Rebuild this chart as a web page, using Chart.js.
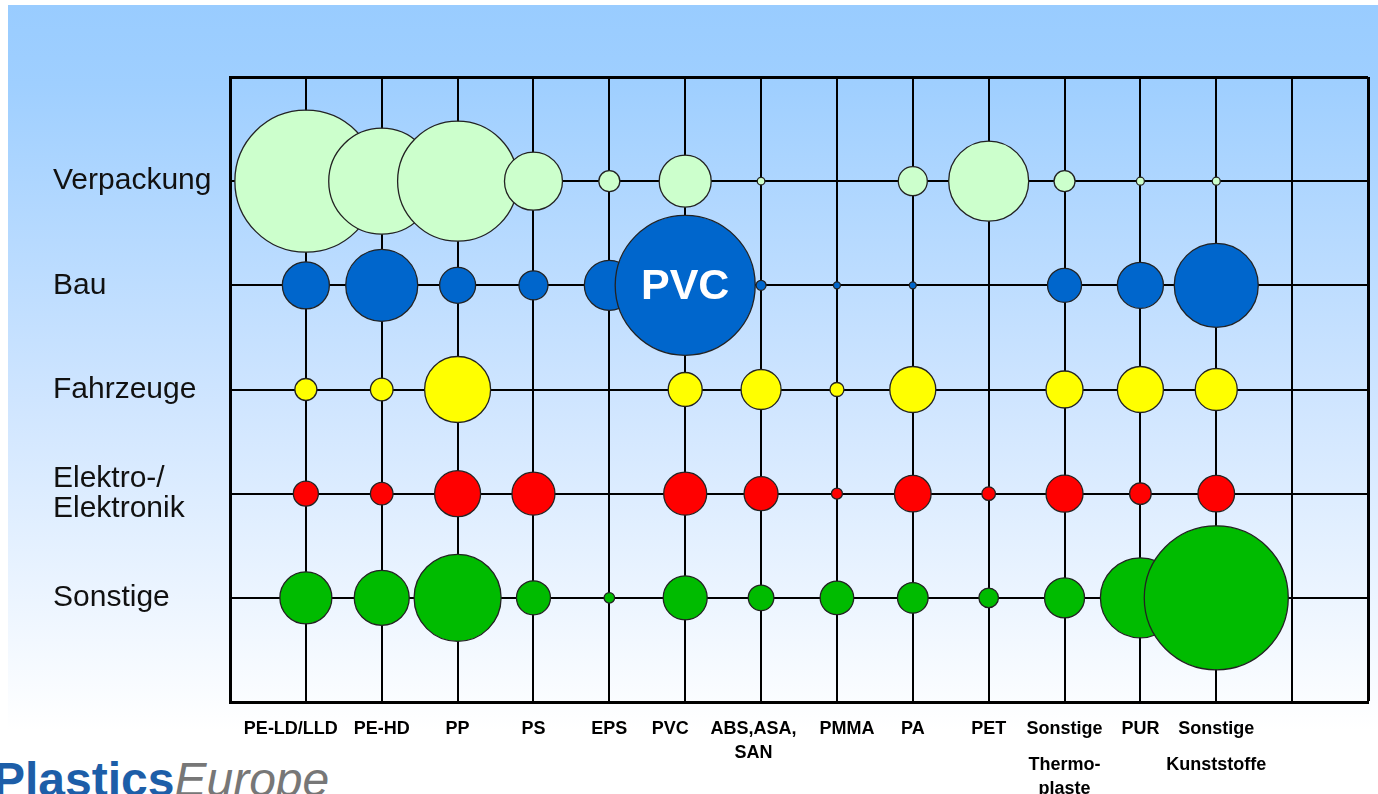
<!DOCTYPE html>
<html>
<head>
<meta charset="utf-8">
<script src="https://cdn.jsdelivr.net/npm/chart.js@4/dist/chart.umd.min.js"></script>
<style>
  html, body { margin: 0; padding: 0; background: #ffffff; overflow: hidden; }
  #bg {
    position: absolute; left: 8px; top: 5px; width: 1370px; height: 789px;
    background: linear-gradient(to bottom, #99ccff 0%, #9fcfff 10%, #cfe5ff 50%, #ffffff 92%);
  }
  #wrap { position: absolute; left: 0; top: 0; width: 1378px; height: 794px; }
  #logo {
    position: absolute; left: -7px; top: 756px; font-family: 'Liberation Sans', Arial, sans-serif;
    font-size: 48px; line-height: 1; white-space: nowrap;
  }
  #logo .p { color: #1d5ea8; font-weight: 600; }
  #logo .e { color: #777777; font-style: italic; font-weight: 300; }
</style>
</head>
<body>
<div id="bg"></div>
<div id="logo"><span class="p">Plastics</span><span class="e">Europe</span></div>
<div id="wrap"><canvas id="bubbleChart"></canvas></div>
<script>
// Werkstoffe (x-Achse), Positionen 1..13 (Leerzeichen verschieben die Beschriftung wie im Original)
const materials = [
  'PE-LD/LLD      ', 'PE-HD', 'PP', 'PS', 'EPS', 'PVC      ', ['ABS,ASA,   ', '', 'SAN   '],
  '    PMMA', 'PA', 'PET', ['Sonstige', '', '', 'Thermo-', '', 'plaste'], 'PUR',
  ['Sonstige', '', '', 'Kunststoffe']
];

// Anwendungsbereiche (y-Achse), von oben nach unten
const sectors = ['Verpackung', 'Bau', 'Fahrzeuge', ['Elektro-/', 'Elektronik'], 'Sonstige'];
const sectorColors = ['#ccffcc', '#0066cc', '#ffff00', '#ff0000', '#00bb00'];

// Blasengroessen (Radius), null = kein Einsatz
const verpackung = [71, 53, 60, 29, 10.5, 26, 3.8, null, 14.5, 40, 10.5, 4, 4];
const bau        = [23.5, 36, 18, 14.5, 25, 70, 5, 3.5, 3.5, null, 17, 23, 42];
const fahrzeuge  = [11, 11.3, 33, null, null, 17, 20, 7, 23, null, 18.5, 23, 21];
const elektro    = [12.5, 11.3, 23, 21.5, null, 21.5, 17, 5.5, 18.3, 6.8, 18.5, 10.8, 18.3];
const sonstige   = [26, 27.5, 43.5, 17, 5.3, 22, 12.8, 16.8, 15.3, 9.8, 20, 40, 72];

const rows = [verpackung, bau, fahrzeuge, elektro, sonstige];

const datasets = rows.map((vals, i) => {
    const yVal = sectors.length - i; // 5..1
    const data = [];
    vals.forEach((r, j) => {
        if (r !== null) data.push({ x: j + 1, y: yVal, r: r });
    });
    return {
        label: Array.isArray(sectors[i]) ? sectors[i].join(' ') : sectors[i],
        data: data,
        backgroundColor: sectorColors[i],
        borderColor: '#222222',
        borderWidth: 1.3,
        hoverRadius: 0,
        clip: false
    };
});

// weisser "PVC"-Schriftzug in der Bau/PVC-Blase
const pvcLabel = {
    id: 'pvcLabel',
    afterDatasetsDraw(chart) {
        const ctx = chart.ctx;
        const x = chart.scales.x.getPixelForValue(6);
        const y = chart.scales.y.getPixelForValue(sectors.length - 1);
        ctx.save();
        ctx.fillStyle = '#ffffff';
        ctx.font = 'bold 43px "Liberation Sans", Arial, sans-serif';
        ctx.textAlign = 'center';
        ctx.textBaseline = 'middle';
        ctx.fillText('PVC', x, y + 2);
        ctx.restore();
    }
};

const edgeWidth = (max) => (c) => (c.tick && c.tick.value === max ? 3 : 2);

new Chart(document.getElementById('bubbleChart'), {
    type: 'bubble',
    data: { datasets: datasets },
    plugins: [pvcLabel],
    options: {
        responsive: true,
        maintainAspectRatio: false,
        animation: false,
        layout: { autoPadding: false, padding: { left: 53, top: 77, right: 10, bottom: 0 } },
        plugins: {
            legend: { display: false },
            tooltip: { enabled: false }
        },
        scales: {
            x: {
                type: 'linear',
                min: 0,
                max: materials.length + 2,
                afterFit: (scale) => {
                    scale.height = 92;
                    scale.paddingLeft = 0;
                    scale.paddingRight = 0;
                },
                grid: { color: '#000000', lineWidth: edgeWidth(materials.length + 2), drawTicks: false },
                border: { color: '#000000', width: 3 },
                ticks: {
                    stepSize: 1,
                    autoSkip: false,
                    maxRotation: 0,
                    padding: 21,
                    color: '#000000',
                    font: { family: '"Liberation Sans", Arial, sans-serif', size: 18, weight: 'bold', lineHeight: '12px' },
                    callback: (v) => materials[v - 1] || ''
                }
            },
            y: {
                type: 'linear',
                min: 0,
                max: sectors.length + 1,
                afterFit: (scale) => { scale.width = 177; },
                grid: { color: '#000000', lineWidth: edgeWidth(sectors.length + 1), drawTicks: false },
                border: { color: '#000000', width: 3 },
                ticks: {
                    stepSize: 1,
                    crossAlign: 'far',
                    color: '#111111',
                    font: { family: '"Liberation Sans", Arial, sans-serif', size: 30, lineHeight: '30px' },
                    callback: (v) => sectors[sectors.length - v] || ''
                }
            }
        }
    }
});
</script>
</body>
</html>
